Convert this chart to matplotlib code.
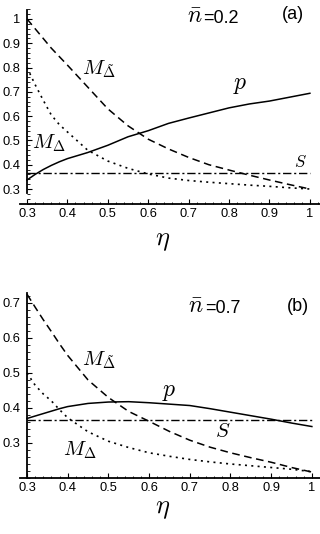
import matplotlib.pyplot as plt
from matplotlib.ticker import MultipleLocator
import numpy as np

plt.rcParams['font.family'] = ['Liberation Sans', 'DejaVu Sans']
plt.rcParams['mathtext.fontset'] = 'cm'

# ---- panel (a), n_bar = 0.2 ----
eta_a = [0.3, 0.32, 0.34, 0.36, 0.38, 0.4, 0.45, 0.5, 0.55, 0.6, 0.65,
         0.7, 0.75, 0.8, 0.85, 0.9, 0.95, 1.0]
m_tilde_a = [1.0, 0.96, 0.92, 0.88, 0.845, 0.81, 0.72, 0.63, 0.56, 0.505, 0.465,
             0.43, 0.40, 0.378, 0.357, 0.337, 0.318, 0.30]
m_delta_a = [0.80, 0.73, 0.666, 0.605, 0.565, 0.535, 0.46, 0.415, 0.385, 0.362, 0.345,
             0.335, 0.328, 0.322, 0.316, 0.311, 0.305, 0.30]
p_a = [0.337, 0.36, 0.38, 0.397, 0.412, 0.425, 0.45, 0.48, 0.515, 0.54, 0.57,
       0.592, 0.613, 0.634, 0.65, 0.662, 0.678, 0.694]
s_a = 0.367

# ---- panel (b), n_bar = 0.7 ----
eta_b = [0.3, 0.32, 0.34, 0.36, 0.38, 0.4, 0.45, 0.5, 0.55, 0.6, 0.65,
         0.7, 0.75, 0.8, 0.85, 0.9, 0.95, 1.0]
m_tilde_b = [0.725, 0.688, 0.652, 0.618, 0.583, 0.55, 0.48, 0.43, 0.39, 0.362, 0.333,
             0.308, 0.288, 0.272, 0.258, 0.245, 0.23, 0.217]
m_delta_b = [0.50, 0.465, 0.44, 0.42, 0.395, 0.372, 0.332, 0.305, 0.287, 0.272, 0.262,
             0.253, 0.246, 0.24, 0.235, 0.23, 0.225, 0.218]
p_b = [0.37, 0.377, 0.384, 0.391, 0.398, 0.404, 0.413, 0.417, 0.418, 0.415, 0.411,
       0.407, 0.398, 0.388, 0.378, 0.368, 0.357, 0.347]
s_b = 0.367

x_ticks = [0.3, 0.4, 0.5, 0.6, 0.7, 0.8, 0.9, 1.0]
x_labels = ['0.3', '0.4', '0.5', '0.6', '0.7', '0.8', '0.9', '1']
y_ticks_a = [0.3, 0.4, 0.5, 0.6, 0.7, 0.8, 0.9, 1.0]
y_labels_a = ['0.3', '0.4', '0.5', '0.6', '0.7', '0.8', '0.9', '1']
y_ticks_b = [0.3, 0.4, 0.5, 0.6, 0.7]
y_labels_b = ['0.3', '0.4', '0.5', '0.6', '0.7']


def style_axes(ax, xlim, ylim, ybounds, yticks, ylabels):
    ax.set_xlim(*xlim)
    ax.set_ylim(*ylim)
    for side in ('top', 'right'):
        ax.spines[side].set_visible(False)
    ax.spines['left'].set_position(('data', 0.3))
    ax.spines['left'].set_bounds(*ybounds)
    ax.spines['left'].set_linewidth(1.3)
    ax.spines['bottom'].set_linewidth(1.3)
    ax.set_xticks(x_ticks)
    ax.set_xticklabels(x_labels)
    ax.set_yticks(yticks)
    ax.set_yticklabels(ylabels)
    ax.xaxis.set_minor_locator(MultipleLocator(0.02))
    ax.yaxis.set_minor_locator(MultipleLocator(0.02))
    ax.tick_params(which='major', direction='in', length=3.5, width=0.8,
                   labelsize=9.3, pad=5)
    ax.tick_params(which='major', axis='x', pad=3)
    ax.tick_params(which='minor', direction='in', length=1.8, width=0.6)
    ax.set_facecolor('none')


def draw_curves(ax, eta, m_tilde, m_delta, p, s):
    ax.plot(eta, m_tilde, color='black', lw=1.1, dashes=(5, 3))
    ax.plot(eta, m_delta, color='black', lw=1.2, dashes=(1.2, 2.6))
    ax.plot(eta, p, color='black', lw=1.1)
    ax.plot([eta[0], eta[-1]], [s, s], color='black', lw=1.0,
            dashes=(6, 2, 1.5, 2))


def nbar_label(ax, x, y, value):
    ax.text(x, y, r'$\bar{n}$', fontsize=17, ha='right', va='baseline')
    ax.text(x + 0.002, y, '=' + value, fontsize=13, ha='left', va='baseline')


fig = plt.figure(figsize=(3.2, 5.34), dpi=100)

ax1 = fig.add_axes([20 / 320, 1 - 204 / 534, 300 / 320, 196 / 534])
draw_curves(ax1, eta_a, m_tilde_a, m_delta_a, p_a, s_a)
style_axes(ax1, (0.2827, 1.025), (0.2383, 1.045), (0.284, 1.037),
           y_ticks_a, y_labels_a)
ax1.text(0.478, 0.795, r'$M_{\tilde{\Delta}}$', fontsize=15, ha='center', va='center')
ax1.text(0.355, 0.49, r'$M_{\Delta}$', fontsize=15, ha='center', va='center')
ax1.text(0.827, 0.728, r'$p$', fontsize=17, ha='center', va='center')
ax1.text(0.976, 0.411, r'$S$', fontsize=12, ha='center', va='center')
nbar_label(ax1, 0.734, 0.984, '0.2')
ax1.text(0.958, 1.02, '(a)', fontsize=13, ha='center', va='center')
fig.text(163 / 320, 1 - 241 / 534, r'$\eta$', fontsize=19, ha='center', va='center')

ax2 = fig.add_axes([20 / 320, 1 - 478 / 534, 300 / 320, 188 / 534])
draw_curves(ax2, eta_b, m_tilde_b, m_delta_b, p_b, s_b)
style_axes(ax2, (0.2828, 1.02), (0.2, 0.737), (0.2, 0.729),
           y_ticks_b, y_labels_b)
ax2.text(0.476, 0.537, r'$M_{\tilde{\Delta}}$', fontsize=15, ha='center', va='center')
ax2.text(0.43, 0.28, r'$M_{\Delta}$', fontsize=15, ha='center', va='center')
ax2.text(0.649, 0.447, r'$p$', fontsize=17, ha='center', va='center')
ax2.text(0.782, 0.334, r'$S$', fontsize=15, ha='center', va='center')
nbar_label(ax2, 0.735, 0.671, '0.7')
ax2.text(0.966, 0.689, '(b)', fontsize=13, ha='center', va='center')
fig.text(163 / 320, 1 - 509 / 534, r'$\eta$', fontsize=19, ha='center', va='center')

fig.savefig('out.png', dpi=100, facecolor='white')
